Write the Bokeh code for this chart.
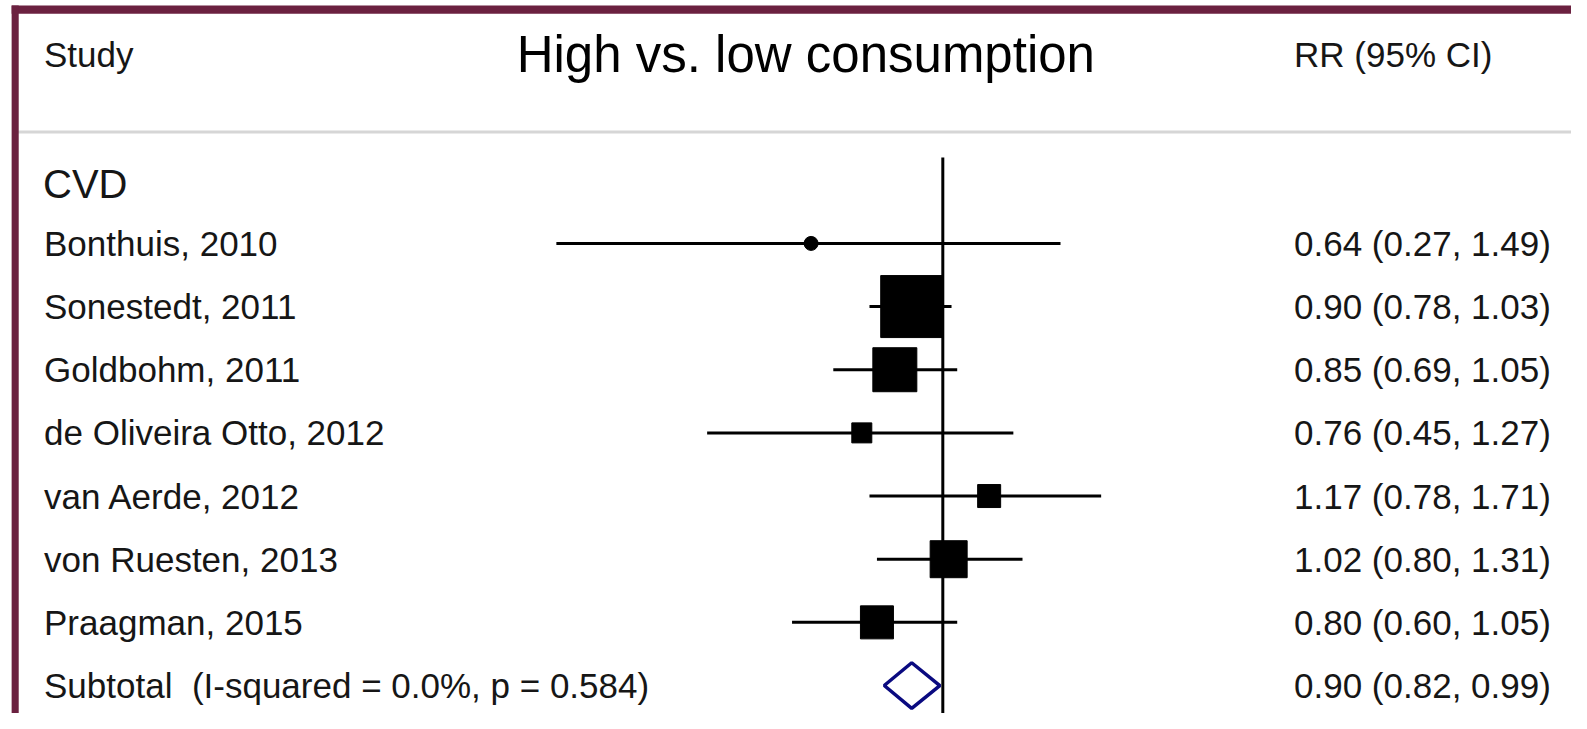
import math
from bokeh.plotting import figure
from bokeh.models import Range1d, ColumnDataSource
from bokeh.core.properties import value
from bokeh.embed import file_html
from bokeh.resources import INLINE

# ---- data ----
group_label = "CVD"
studies = ["Bonthuis, 2010", "Sonestedt, 2011", "Goldbohm, 2011",
           "de Oliveira Otto, 2012", "van Aerde, 2012", "von Ruesten, 2013",
           "Praagman, 2015"]
rr = [0.64, 0.90, 0.85, 0.76, 1.17, 1.02, 0.80]
lci = [0.27, 0.78, 0.69, 0.45, 0.78, 0.80, 0.60]
uci = [1.49, 1.03, 1.05, 1.27, 1.71, 1.31, 1.05]
subtotal_label = "Subtotal\u00a0 (I-squared = 0.0%, p = 0.584)"
sub_rr, sub_lci, sub_uci = 0.90, 0.82, 0.99
title = "High vs. low consumption"
col_left = "Study"
col_right = "RR (95% CI)"

# ---- styles / layout ----
W, H = 1571, 713
K = 1 / 0.988
PX_PER_LN = 291.6 * K
NULL_PX = 931.0 * K          # x=1 position inside the figure (px)
ROW_PX = 62.4 * K
ROW0_PX = 240.0 * K - ROW_PX  # y of row 0 inside figure (px)
box_sizes = [14, 62, 44, 20, 23, 37, 33]
MAROON = "#6B2140"
TXT = "#161616"
FONT = value("Liberation Sans")

def px2x(px):
    return math.exp((px * K - NULL_PX) / PX_PER_LN)

def px2y(py):
    return -(py * K - ROW0_PX) / ROW_PX

def fx2x(fx):
    return math.exp((fx - NULL_PX) / PX_PER_LN)

def fy2y(fy):
    return -(fy - ROW0_PX) / ROW_PX

p = figure(width=W, height=H, x_axis_type="log", output_backend="svg",
           toolbar_location=None, min_border=0,
           x_range=Range1d(fx2x(0), fx2x(W)),
           y_range=Range1d(fy2y(H), fy2y(0)))
p.axis.visible = False
p.grid.visible = False
p.outline_line_color = None
p.background_fill_color = "white"
p.border_fill_color = "white"

rows = list(range(1, len(studies) + 1))
ys = [-r for r in rows]
sub_y = -(len(studies) + 1)

# header separator line (grey)
p.segment(x0=[px2x(17)], x1=[px2x(1600)], y0=[px2y(130)], y1=[px2y(130)],
          line_color="#d6d6d6", line_width=3)

# null line at RR = 1
p.segment(x0=[1.0], x1=[1.0], y0=[px2y(155)], y1=[px2y(740)],
          line_color="black", line_width=3)

src = ColumnDataSource(dict(study=studies, rr=rr, lci=lci, uci=uci, y=ys,
                            lab=[f"{a:.2f} ({b:.2f}, {c:.2f})" for a, b, c in zip(rr, lci, uci)]))

# confidence intervals
p.segment(x0="lci", x1="uci", y0="y", y1="y", source=src,
          line_color="black", line_width=3)

# weight boxes (first study drawn as a dot)
box_src = ColumnDataSource(dict(rr=rr[1:], y=ys[1:], size=box_sizes[1:]))
p.scatter(x="rr", y="y", size="size", marker="square", source=box_src,
          fill_color="black", line_color="black", line_width=1)
p.scatter(x=[rr[0]], y=[ys[0]], size=box_sizes[0], marker="circle",
          fill_color="black", line_color="black")

# subtotal diamond
half_h = 22.5 / 62.4
p.patch(x=[sub_lci, sub_rr, sub_uci, sub_rr, sub_lci],
        y=[sub_y, sub_y + half_h, sub_y, sub_y - half_h, sub_y],
        fill_color="white", line_color="#0A0A80", line_width=3.5)

# texts
hdr_y = px2y(53)
p.text(x=[px2x(43)], y=[hdr_y], text=[col_left], text_font=FONT,
       text_font_size="35px", text_color=TXT, text_baseline="middle")
p.text(x=[px2x(510)], y=[hdr_y], text=[title], text_font=FONT,
       text_font_size="51px", text_color="black", text_baseline="middle")
p.text(x=[px2x(1278)], y=[hdr_y], text=[col_right], text_font=FONT,
       text_font_size="35px", text_color=TXT, text_baseline="middle")
p.text(x=[px2x(42)], y=[px2y(181)], text=[group_label], text_font=FONT,
       text_font_size="40px", text_color=TXT, text_baseline="middle")
p.text(x=px2x(43), y="y", text="study", source=src, text_font=FONT,
       text_font_size="35px", text_color=TXT, text_baseline="middle")
p.text(x=px2x(1278), y="y", text="lab", source=src, text_font=FONT,
       text_font_size="35px", text_color=TXT, text_baseline="middle")
p.text(x=[px2x(43)], y=[sub_y], text=[subtotal_label], text_font=FONT,
       text_font_size="35px", text_color=TXT, text_baseline="middle")
p.text(x=[px2x(1278)], y=[sub_y], text=[f"{sub_rr:.2f} ({sub_lci:.2f}, {sub_uci:.2f})"],
       text_font=FONT, text_font_size="35px", text_color=TXT, text_baseline="middle")

# maroon frame (top and left edges)
p.quad(left=[px2x(11)], right=[px2x(1600)], top=[px2y(5)], bottom=[px2y(13)],
       fill_color=MAROON, line_color=None)
p.quad(left=[px2x(11)], right=[px2x(18)], top=[px2y(5)], bottom=[px2y(740)],
       fill_color=MAROON, line_color=None)

open("out.html", "w").write(file_html(p, INLINE))
